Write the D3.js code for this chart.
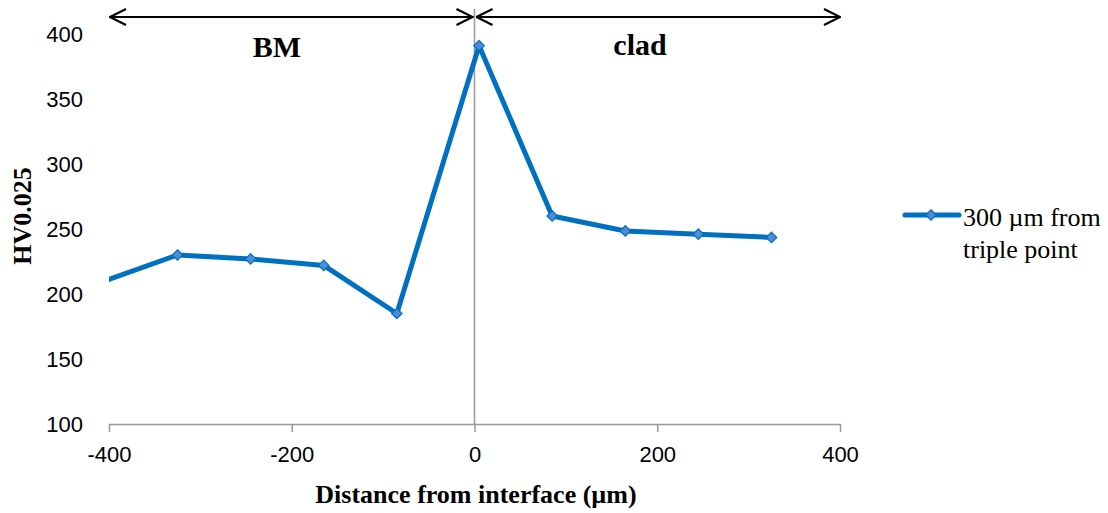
<!DOCTYPE html>
<html><head><meta charset="utf-8">
<script src="https://cdn.jsdelivr.net/npm/d3@7"></script>
<style>body{margin:0;background:#fff}svg{display:block}</style>
</head><body>
<svg id="c" width="1108" height="513"></svg>
<script>
const distances = [-405, -325, -245, -165, -85, 5, 85, 165, 245, 325];
const hardness = [210, 230, 227, 222, 185, 391, 260, 248.5, 246, 243.5];
const xTicks = [-400, -200, 0, 200, 400];
const yTicks = [100, 150, 200, 250, 300, 350, 400];
const seriesName = ["300 µm from", "triple point"];
const regionLabels = ["BM", "clad"];

const svg = d3.select("#c");
const x = d3.scaleLinear().domain([-400, 400]).range([109, 840]);
const y = d3.scaleLinear().domain([100, 400]).range([424, 34]);
const blue = "#0070C0";
const serif = "Liberation Serif, Times New Roman, serif";
const sans = "Liberation Sans, Arial, sans-serif";

svg.append("defs").append("clipPath").attr("id","clip")
  .append("rect").attr("x",109).attr("y",0).attr("width",731).attr("height",430);
svg.select("defs").append("marker").attr("id","ah").attr("viewBox","0 0 20 20")
  .attr("refX",19).attr("refY",10).attr("markerWidth",20).attr("markerHeight",20)
  .attr("markerUnits","userSpaceOnUse").attr("orient","auto-start-reverse")
  .append("path").attr("d","M3,2 L19,10 L3,18").attr("fill","none").attr("stroke","#000").attr("stroke-width",2.2);

// x axis
const xAxis = svg.append("g").attr("transform",`translate(0,${y(100)})`)
  .call(d3.axisBottom(x).tickValues(xTicks).tickSize(8).tickSizeOuter(0).tickPadding(14).tickFormat(d=>String(d)));
xAxis.select(".domain").attr("stroke","#999").attr("stroke-width",1.5);
xAxis.selectAll(".tick line").attr("stroke","#999").attr("stroke-width",1.5);
xAxis.selectAll(".tick text").attr("font-family",sans).attr("font-size",22).attr("fill","#000");

// y tick labels
svg.append("g").selectAll("text").data(yTicks).join("text")
  .attr("x",83).attr("y",d=>y(d)).attr("dy","0.36em").attr("text-anchor","end")
  .attr("font-family",sans).attr("font-size",22).text(d=>d);

// vertical axis at 0
svg.append("line").attr("x1",x(0)).attr("x2",x(0)).attr("y1",9).attr("y2",y(100))
  .attr("stroke","#999").attr("stroke-width",1.5);

// arrows
svg.append("line").attr("x1",x(-400)+1).attr("x2",x(0)-2).attr("y1",17).attr("y2",17)
  .attr("stroke","#000").attr("stroke-width",2.2)
  .attr("marker-start","url(#ah)").attr("marker-end","url(#ah)");
svg.append("line").attr("x1",x(0)+2).attr("x2",x(400)).attr("y1",17).attr("y2",17)
  .attr("stroke","#000").attr("stroke-width",2.2)
  .attr("marker-start","url(#ah)").attr("marker-end","url(#ah)");

svg.append("text").attr("x",277).attr("y",57).attr("text-anchor","middle")
  .attr("font-family",serif).attr("font-weight","bold").attr("font-size",30).text(regionLabels[0]);
svg.append("text").attr("x",640).attr("y",55).attr("text-anchor","middle")
  .attr("font-family",serif).attr("font-weight","bold").attr("font-size",30).text(regionLabels[1]);

// series
const data = distances.map((d,i)=>({d, v:hardness[i]}));
const g = svg.append("g").attr("clip-path","url(#clip)");
g.append("path").datum(data).attr("fill","none").attr("stroke",blue).attr("stroke-width",5)
  .attr("stroke-linejoin","round")
  .attr("d", d3.line().x(p=>x(p.d)).y(p=>y(p.v)));
g.selectAll("path.m").data(data).join("path").attr("class","m")
  .attr("transform",p=>`translate(${x(p.d)},${y(p.v)})`)
  .attr("d", d3.symbol(d3.symbolDiamond2, 70))
  .attr("fill","#4f8bd6").attr("stroke",blue).attr("stroke-width",1.2);

// axis titles
svg.append("text").attr("x",476).attr("y",503).attr("text-anchor","middle")
  .attr("font-family",serif).attr("font-weight","bold").attr("font-size",26)
  .text("Distance from interface (µm)");
svg.append("text").attr("transform","translate(31,216) rotate(-90)").attr("text-anchor","middle")
  .attr("font-family",serif).attr("font-weight","bold").attr("font-size",26)
  .text("HV0.025");

// legend
svg.append("line").attr("x1",905).attr("x2",959).attr("y1",215).attr("y2",215).attr("stroke",blue).attr("stroke-width",5).attr("stroke-linecap","round");
svg.append("path").attr("transform","translate(931,215)").attr("d", d3.symbol(d3.symbolDiamond2, 70))
  .attr("fill","#4f8bd6").attr("stroke",blue).attr("stroke-width",1.2);
svg.append("text").attr("x",963).attr("y",226).attr("font-family",serif).attr("font-size",26).text(seriesName[0]);
svg.append("text").attr("x",963).attr("y",258).attr("font-family",serif).attr("font-size",26).text(seriesName[1]);
</script>
</body></html>
